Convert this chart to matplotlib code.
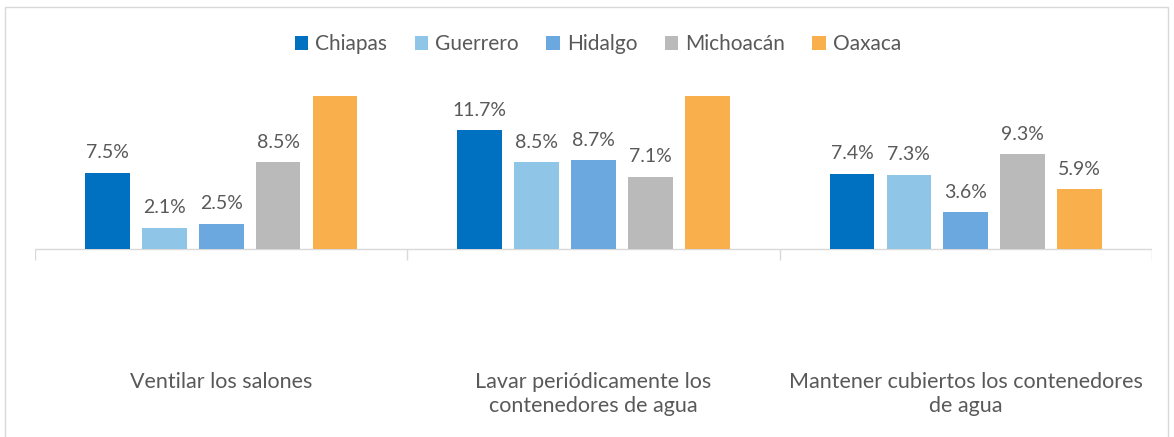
import matplotlib
matplotlib.use("Agg")
import matplotlib.pyplot as plt
import matplotlib.transforms as mtransforms
from matplotlib.patches import Rectangle
import numpy as np

categories = ["Ventilar los salones",
              "Lavar periódicamente los\ncontenedores de agua",
              "Mantener cubiertos los contenedores\nde agua"]
states = ["Chiapas", "Guerrero", "Hidalgo", "Michoacán", "Oaxaca"]
chiapas = [7.5, 11.7, 7.4]
guerrero = [2.1, 8.5, 7.3]
hidalgo = [2.5, 8.7, 3.6]
michoacan = [8.5, 7.1, 9.3]
oaxaca = [16.5, 17.5, 5.9]   # first two exceed axis max (clipped in reference)
series = [chiapas, guerrero, hidalgo, michoacan, oaxaca]
colors = ["#0070C0", "#8FC6E8", "#6CA8E0", "#BABABA", "#F8AF4C"]

plt.rcParams['font.family'] = ['Lato', 'DejaVu Sans']
txt = "#595959"

fig = plt.figure(figsize=(11.74, 4.37), dpi=100)
ax = fig.add_axes([35/1174, 86/437, (1152-35)/1174, (351-96)/437])
ymin, ymax = -10, 15
ax.set_ylim(ymin, ymax)
ax.set_xlim(-0.5, len(categories) - 0.5)

x = np.arange(len(categories))
pitch, width = 0.153, 0.12
for j, (vals, col, name) in enumerate(zip(series, colors, states)):
    pos = x + (j - 2) * pitch
    bars = ax.bar(pos, vals, width, color=col, label=name, zorder=2)
    for b, v in zip(bars, vals):
        if v <= ymax:
            ax.annotate(f"{v:.1f}%", (b.get_x() + b.get_width()/2, v),
                        xytext=(0, 8), textcoords="offset points",
                        ha="center", va="bottom", fontsize=14, color=txt)

# category axis at zero with tick marks at boundaries
ax.axhline(0, color="#D9D9D9", lw=1, zorder=1)
bounds = np.arange(len(categories) + 1) - 0.5
ax.vlines(bounds, -1.1, 0, color="#D9D9D9", lw=1, zorder=1)

for s in ax.spines.values():
    s.set_visible(False)
ax.set_yticks([])
ax.set_xticks([])
trans = mtransforms.blended_transform_factory(ax.transData, fig.transFigure)
for i, c in enumerate(categories):
    ax.text(i, (437 - 372) / 437, c, transform=trans, ha="center", va="top",
            fontsize=15.5, color=txt, linespacing=1.25)

leg = fig.legend(loc="center", bbox_to_anchor=(598/1174, (437-44)/437), ncol=5,
                 frameon=False, fontsize=15, handlelength=0.65, handleheight=0.65,
                 columnspacing=1.3, handletextpad=0.35, labelcolor=txt)

fig.patches.append(Rectangle((5/1174, -0.1), (1168-5)/1174, 1.1 - 7/437,
                             transform=fig.transFigure, fill=False,
                             edgecolor="#D9D9D9", lw=1))

fig.savefig("out.png", dpi=100, facecolor="white")
